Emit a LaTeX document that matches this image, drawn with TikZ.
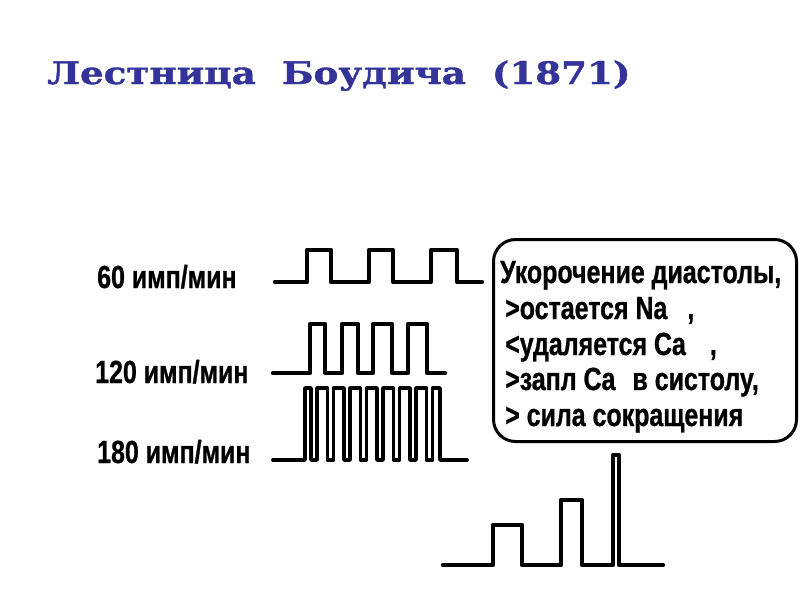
\documentclass[tikz,border=0pt]{standalone}
\usepackage{fontspec}
\newfontfamily\titlefont[FakeStretch=1.2,FakeBold=1.2]{DejaVu Serif Bold}
\newfontfamily\condfont[FakeStretch=0.78,FakeBold=0.8]{Liberation Sans Bold}
\definecolor{titleblue}{RGB}{51,51,153}
\begin{document}
\begin{tikzpicture}[x=1pt,y=-1pt,
  wave/.style={line width=4.5, line join=round, line cap=round},
  thinwave/.style={line width=3.8, line join=round, line cap=round},
  lbl/.style={anchor=base west, inner sep=0, font=\condfont\fontsize{32}{34}\selectfont},
  boxline/.style={anchor=base west, inner sep=0, font=\condfont\fontsize{32}{34}\selectfont}]
\useasboundingbox (0,0) rectangle (800,600);
\fill[white] (0,0) rectangle (800,600);
% title
\node[anchor=base west, inner sep=0, text=titleblue, font=\titlefont\fontsize{31}{36}\selectfont] (title) at (47,84) {Лестница\ \ Боудича\ \ (1871)};
% labels
\node[lbl] (l60) at (97,288) {60 имп/мин};
\node[lbl] (l120) at (95,383) {120 имп/мин};
\node[lbl] (l180) at (97,463) {180 имп/мин};
% waveform 60
\draw[wave] (275,282) -- (307,282) -- (307,250) -- (331,250) -- (331,282) -- (369,282) -- (369,250) -- (393,250) -- (393,282) -- (431,282) -- (431,250) -- (457,250) -- (457,282) -- (482,282);
% waveform 120
\draw[wave] (273,373) -- (310,373) -- (310,324) -- (325,324) -- (325,373) -- (342,373) -- (342,324) -- (358,324) -- (358,373) -- (373,373) -- (373,324) -- (392,324) -- (392,373) -- (408,373) -- (408,324) -- (427,324) -- (427,373) -- (445,373);
% waveform 180
\draw[thinwave] (273,460) -- (305,460) -- (305,388)
  \foreach \c in {314,330.5,347,363.5,380,396.5,413,429.5} { -- (\c-3,388) -- (\c-3,460) -- (\c+3,460) -- (\c+3,388) }
  -- (440,388) -- (440,460) -- (467,460);
% staircase
\draw[wave] (443,565) -- (493,565) -- (493,525) -- (522,525) -- (522,565) -- (561,565) -- (561,500) -- (582,500) -- (582,565) -- (613,565) -- (613,455) -- (619,455) -- (619,565) -- (663,565);
% box
\node[draw, line width=3, rounded corners=22, minimum width=303, minimum height=202, anchor=north west, inner sep=0] (box) at (492,238) {};
\node[boxline] (t1) at (500,283) {Укорочение диастолы,};
\node[boxline] (t2) at (505,319) {>остается Na\hspace{20pt},};
\node[boxline] (t3) at (505,355) {<удаляется Ca\hspace{24pt},};
\node[boxline] (t4) at (505,390) {>запл Ca\hspace{17pt}в систолу,};
\node[boxline] (t5) at (505,426) {> сила сокращения};
\end{tikzpicture}
\end{document}
